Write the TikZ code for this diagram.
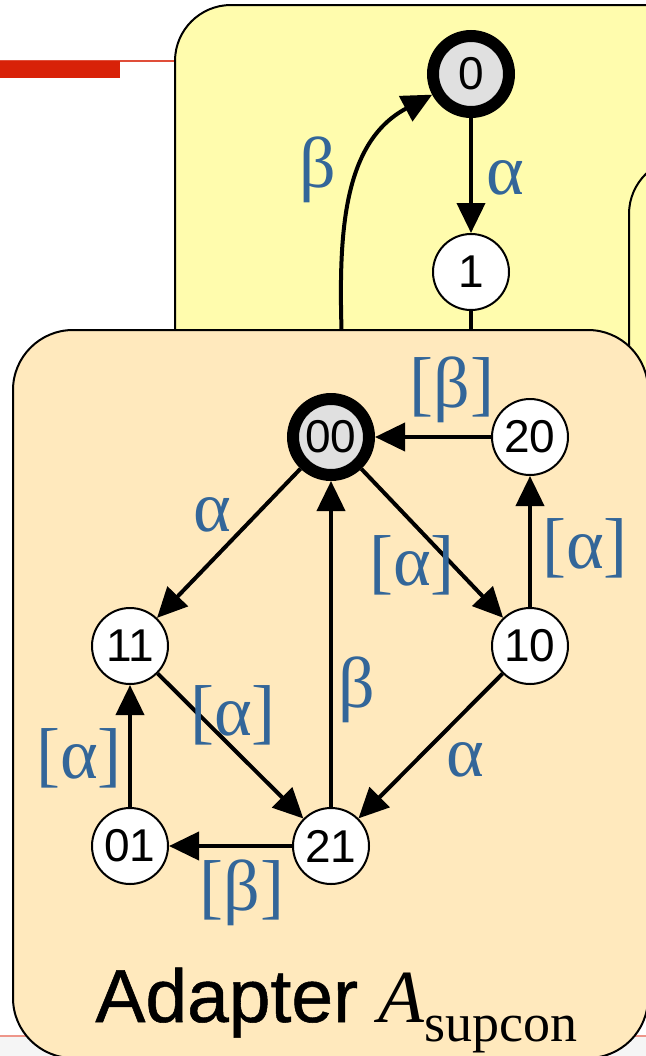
\documentclass[tikz,border=0pt]{standalone}
\usepackage{fontspec}
\setmainfont{Liberation Sans}
\newfontfamily\tmsfont{Liberation Serif}
\newfontfamily\titlefont{Liberation Sans}[FakeBold=0.7]
\usetikzlibrary{arrows.meta}
\definecolor{plantfill}{RGB}{255,252,173}
\definecolor{adfill}{RGB}{255,233,189}
\definecolor{lblblue}{RGB}{51,102,153}
\definecolor{initgray}{RGB}{224,224,224}
\definecolor{barred}{RGB}{216,34,8}
\definecolor{rulepink}{RGB}{238,150,138}

\begin{document}
\begin{tikzpicture}[x=0.5pt,y=-0.5pt,
  box/.style={draw, line width=1pt, rounded corners=28pt},
  state/.style={circle, draw, line width=1pt, fill=white, minimum size=38pt,
              inner sep=0pt, font=\fontsize{23}{23}\selectfont},
  init/.style={state, line width=6pt, fill=initgray},
  arrow/.style={-{Triangle[length=15pt,width=14pt]}, line width=2pt},
  lbl/.style={text=lblblue, inner sep=0pt, font=\tmsfont\fontsize{36}{36}\selectfont}]
\useasboundingbox (0,0) rectangle (646,1056);
% slide furniture
\fill[gray!8] (0,1037) rectangle (646,1056);
\draw[rulepink, line width=1pt] (0,1036) -- (646,1036);
\draw[barred!80, line width=1pt] (0,61) -- (180,61);
\fill[barred] (0,61) rectangle (120,78);
% plant
\draw[box, fill=plantfill] (175,5) rectangle (720,1000);
\draw[box, fill=plantfill] (629,158) rectangle (720,1000);
\node[init]  (p0) at (471,74)  {0};
\node[state] (p1) at (471,272) {1};
\coordinate (p1out) at (471,345);
\coordinate (pin) at (342,345);
\draw[arrow] (p0) -- (p1);
\draw[line width=2pt] (p1) -- (p1out);
\draw[arrow] (pin) to[out=92,in=208] (p0);
\node[lbl] (la) at (505,178) {α};
\node[lbl] (lb) at (318,170) {β};
% adapter
\draw[box, rounded corners=30pt, fill=adfill] (13,330) rectangle (648,1058);
\node[init]  (a00) at (331,437) {00};
\node[state] (a20) at (530,437) {20};
\node[state] (a11) at (130,646) {11};
\node[state] (a10) at (530,646) {10};
\node[state] (a01) at (130,846) {01};
\node[state] (a21) at (331,846) {21};
\foreach \s/\t in {a20/a00, a00/a11, a00/a10, a10/a20, a11/a21,
                   a21/a00, a10/a21, a01/a11, a21/a01}
  \draw[arrow] (\s) -- (\t);
\node[lbl] (l1) at (452,390) {[β]};
\node[lbl] (l2) at (212,515) {α};
\node[lbl] (l3) at (412,565) {[α]};
\node[lbl] (l4) at (585,548) {[α]};
\node[lbl] (l5) at (233,715) {[α]};
\node[lbl] (l6) at (357,690) {β};
\node[lbl] (l7) at (465,760) {α};
\node[lbl] (l8) at (79,758)  {[α]};
\node[lbl] (l9) at (242,893) {[β]};
\node[anchor=base west, inner sep=0pt] (title) at (95,1022)
  {\titlefont\fontsize{37.5}{38}\selectfont Adapter {\tmsfont\itshape A}\raisebox{-9.5pt}{\tmsfont\fontsize{27}{27}\selectfont supcon}};
\end{tikzpicture}
\end{document}
